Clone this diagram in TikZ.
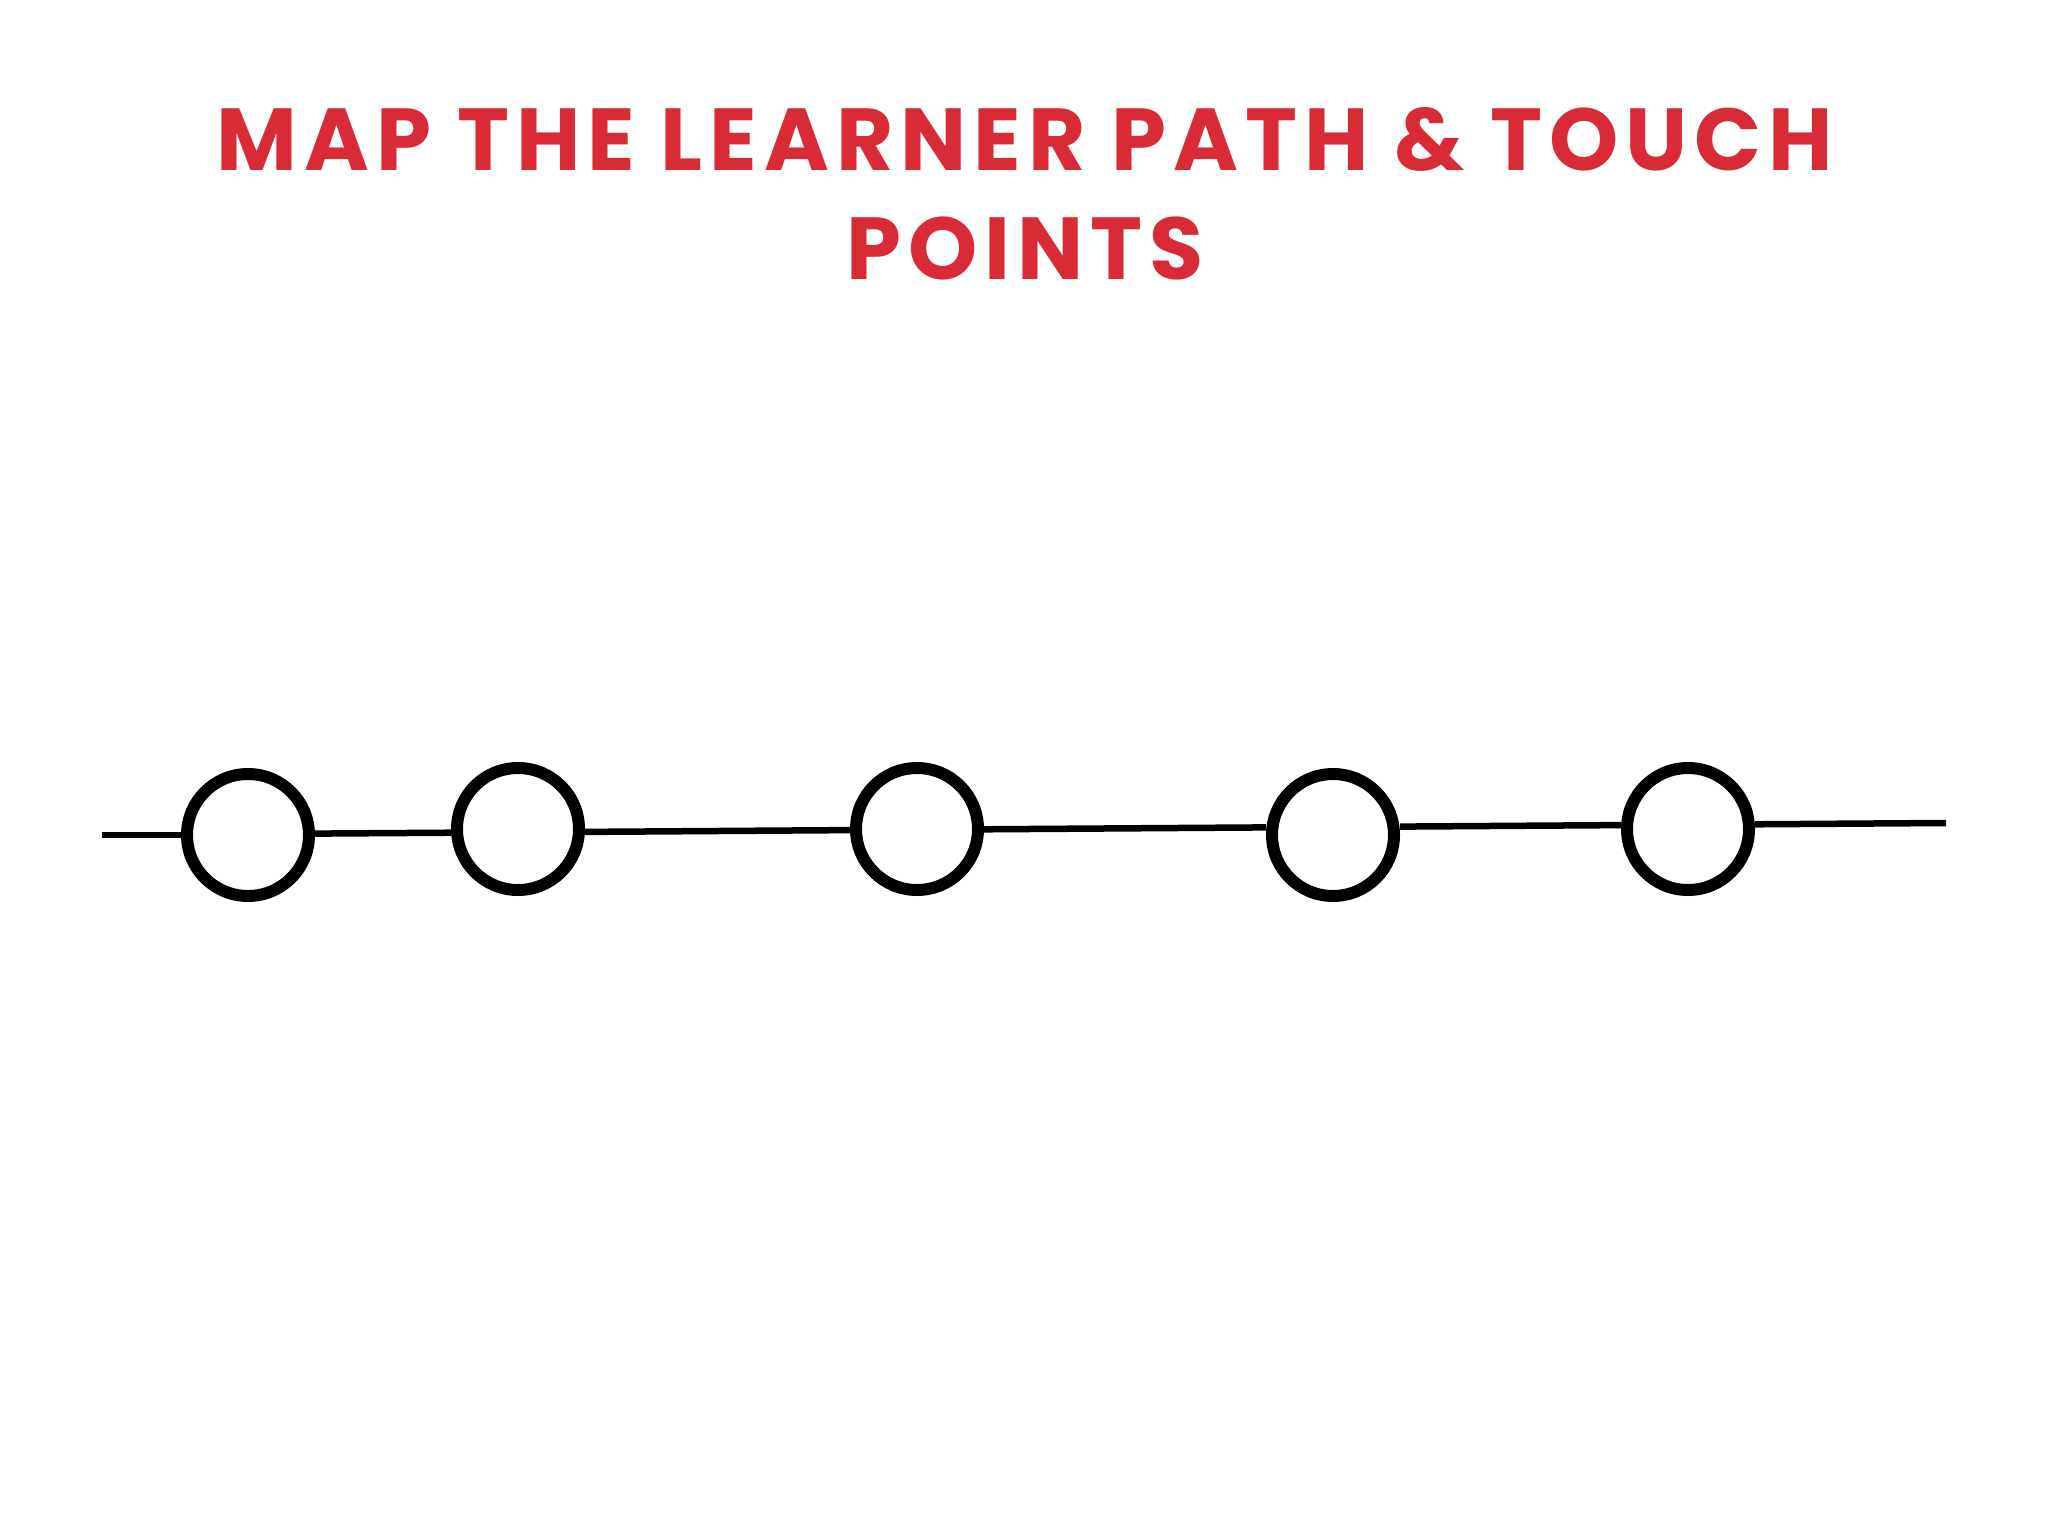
\documentclass[tikz,border=0pt]{standalone}
\usepackage{fontspec}
\setmainfont{Poppins}[BoldFont={* Bold}]
\usetikzlibrary{positioning}
\definecolor{titlered}{RGB}{217,43,54}
\tikzset{
    titletext/.style = {anchor=base, inner sep=0pt, text=titlered, font=\fontsize{88}{100}\selectfont\bfseries\addfontfeature{LetterSpace=8}},
    touchpt/.style = {circle, line width=12pt, draw=black, fill=white, minimum size=122pt, inner sep=0pt},
    pathline/.style = {-, line width=6.5pt, black},
}

\begin{document}
\begin{tikzpicture}[x=1pt,y=-1pt]
\path[use as bounding box, fill=white] (0,0) rectangle (2048,1536);
\node[titletext] at (1025,171) (title1) {MAP THE LEARNER PATH \& TOUCH};
\node[titletext] at (1025,279) (title2) {POINTS};
%
\coordinate (start) at (102,835);
\coordinate (finish) at (1946,823);
\node[touchpt] at (248,835) (p1) {};
\node[touchpt] at (518,829) (p2) {};
\node[touchpt] at (917,829) (p3) {};
\node[touchpt] at (1333,835) (p4) {};
\node[touchpt] at (1688,829) (p5) {};
%
\draw[pathline] (start) -- (p1.west);
\draw[pathline] ([yshift=1.4pt]p1.east) -- ([yshift=-3.7pt]p2.west);
\draw[pathline] ([yshift=-2.9pt]p2.east) -- ([yshift=-1.1pt]p3.west);
\draw[pathline] ([yshift=-0.3pt]p3.east) -- ([yshift=7.6pt]p4.west);
\draw[pathline] ([yshift=8.4pt]p4.east) -- ([yshift=3.9pt]p5.west);
\draw[pathline] ([yshift=4.7pt]p5.east) -- (finish);
\end{tikzpicture}
\end{document}
